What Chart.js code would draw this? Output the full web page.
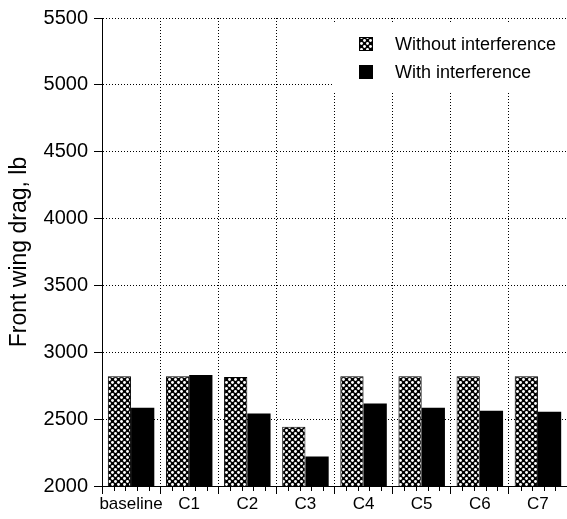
<!DOCTYPE html>
<html>
<head>
<meta charset="utf-8">
<script src="https://cdn.jsdelivr.net/npm/chart.js@4"></script>
<style>
  html, body { margin: 0; padding: 0; background: #fff; }
  #wrap { width: 567px; height: 519px; }
</style>
</head>
<body>
<div id="wrap"><canvas id="c" width="567" height="519"></canvas></div>
<script>
const categories = ['baseline', 'C1', 'C2', 'C3', 'C4', 'C5', 'C6', 'C7'];
const withoutInterference = [2821, 2821, 2816, 2444, 2821, 2821, 2821, 2821];
const withInterference = [2585, 2831, 2543, 2220, 2617, 2585, 2563, 2555];
const seriesLabels = ['Without interference', 'With interference'];
const yTickMin = 2000, yTickMax = 5500, yTickStep = 500;
const yTitle = 'Front wing drag, lb';

const FONT = '"Liberation Sans", Arial, Helvetica, sans-serif';

function makePattern() {
  const t = document.createElement('canvas');
  t.width = 6; t.height = 6;
  const g = t.getContext('2d');
  g.fillStyle = '#000';
  g.fillRect(0, 0, 6, 6);
  g.fillStyle = '#fff';
  const centers = [[1.5, 1.5], [4.5, 4.5]];
  for (const [cx, cy] of centers) {
    g.beginPath();
    g.arc(cx, cy, 1.45, 0, Math.PI * 2);
    g.fill();
  }
  return document.getElementById('c').getContext('2d').createPattern(t, 'repeat');
}
const pattern = makePattern();

const minorTicks = {
  id: 'minorTicks',
  afterDraw(chart) {
    const s = chart.scales.x;
    const ctx = chart.ctx;
    const n = s.getLabels().length;
    const w = (s.right - s.left) / n;
    ctx.save();
    ctx.strokeStyle = '#000';
    ctx.lineWidth = 1;
    ctx.beginPath();
    for (let i = 0; i < n; i++) {
      const left = s.getPixelForTick(i) - w / 2;
      for (let k = 1; k < 5; k++) {
        const x = Math.round(left + w * k / 5) + 0.5;
        ctx.moveTo(x, s.top);
        ctx.lineTo(x, s.top + 5);
      }
    }
    ctx.stroke();
    ctx.restore();
  }
};

const boxLegend = {
  id: 'boxLegend',
  afterDraw(chart) {
    const ctx = chart.ctx;
    const a = chart.chartArea;
    const bx = a.right - 235, by = a.top + 5, bw = 235, bh = 68;
    ctx.save();
    ctx.fillStyle = '#fff';
    ctx.fillRect(bx, by, bw, bh);
    const items = chart.data.datasets;
    ctx.font = '18px ' + FONT;
    ctx.textBaseline = 'middle';
    ctx.textAlign = 'left';
    items.forEach((ds, i) => {
      const cy = by + 21 + i * 28;
      const sx = bx + 27;
      ctx.fillStyle = ds.backgroundColor;
      ctx.fillRect(sx, cy - 7, 14, 14);
      if (ds.borderWidth) {
        ctx.strokeStyle = '#000';
        ctx.lineWidth = 1;
        ctx.strokeRect(sx + 0.5, cy - 6.5, 13, 13);
      }
      ctx.fillStyle = '#000';
      ctx.fillText(ds.label, sx + 36, cy + 1);
    });
    ctx.restore();
  }
};

new Chart(document.getElementById('c'), {
  type: 'bar',
  data: {
    labels: categories,
    datasets: [
      {
        label: seriesLabels[0],
        data: withoutInterference,
        backgroundColor: pattern,
        borderColor: '#000',
        borderWidth: 1,
        borderSkipped: 'bottom'
      },
      {
        label: seriesLabels[1],
        data: withInterference,
        backgroundColor: '#000',
        borderWidth: 0
      }
    ]
  },
  options: {
    responsive: false,
    animation: false,
    devicePixelRatio: 1,
    layout: { padding: { top: 16, right: 0, left: 0, bottom: 0 } },
    plugins: {
      legend: { display: false },
      tooltip: { enabled: false }
    },
    datasets: {
      bar: { categoryPercentage: 0.8, barPercentage: 1.0 }
    },
    scales: {
      x: {
        type: 'category',
        offset: true,
        grid: {
          offset: true,
          color: '#000',
          lineWidth: 1,
          drawTicks: true,
          tickLength: 8,
          tickColor: '#000'
        },
        border: { display: true, color: '#000', width: 1, dash: [1, 2] },
        ticks: {
          color: '#000',
          font: { family: FONT, size: 17 },
          padding: 0,
          maxRotation: 0,
          autoSkip: false
        },
        afterFit(s) { s.height = 33; }
      },
      y: {
        min: yTickMin,
        max: yTickMax,
        grid: {
          color: '#000',
          lineWidth: 1,
          drawTicks: true,
          tickLength: 8,
          tickColor: '#000'
        },
        border: { display: true, color: '#000', width: 1, dash: [1, 2] },
        ticks: {
          stepSize: yTickStep,
          color: '#000',
          font: { family: FONT, size: 20 },
          padding: 6,
          callback: (v) => String(v)
        },
        title: {
          display: true,
          text: yTitle,
          color: '#000',
          font: { family: FONT, size: 23 },
          padding: { top: 6, bottom: 0 }
        },
        afterFit(s) { s.width = 102; }
      }
    }
  },
  plugins: [minorTicks, boxLegend]
});
</script>
</body>
</html>
